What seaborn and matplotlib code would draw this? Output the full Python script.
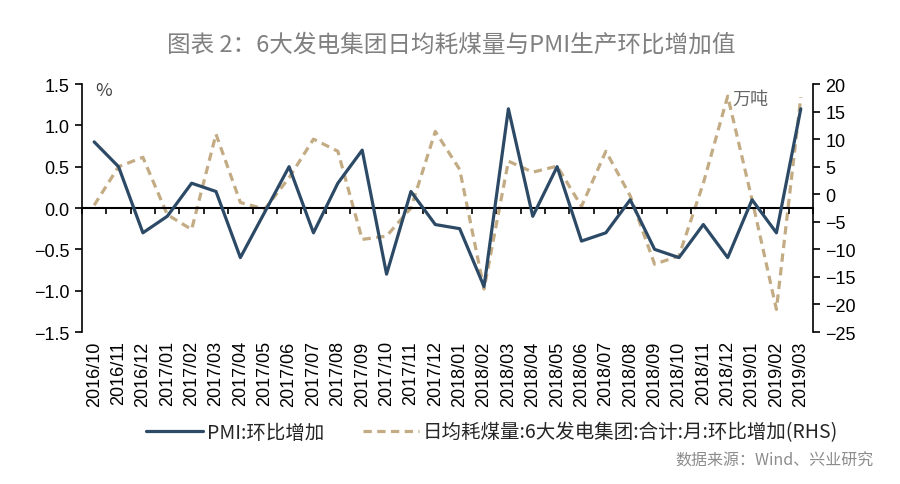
import matplotlib
matplotlib.use('Agg')
import matplotlib.pyplot as plt
import seaborn as sns
import numpy as np
import pandas as pd

# months on the x axis
months = ['2016/10', '2016/11', '2016/12',
          '2017/01', '2017/02', '2017/03', '2017/04', '2017/05', '2017/06',
          '2017/07', '2017/08', '2017/09', '2017/10', '2017/11', '2017/12',
          '2018/01', '2018/02', '2018/03', '2018/04', '2018/05', '2018/06',
          '2018/07', '2018/08', '2018/09', '2018/10', '2018/11', '2018/12',
          '2019/01', '2019/02', '2019/03']

# PMI month-on-month change (%, left axis)
pmi = [0.8, 0.5, -0.3, -0.1, 0.3, 0.2, -0.6, -0.05, 0.5, -0.3,
       0.3, 0.7, -0.8, 0.2, -0.2, -0.25, -0.95, 1.2, -0.1, 0.5,
       -0.4, -0.3, 0.1, -0.5, -0.6, -0.2, -0.6, 0.1, -0.3, 1.2]

# daily coal use of 6 big power groups, m-o-m change (10k t, right axis)
coal = [-2.0, 5.0, 6.7, -3.7, -6.4, 10.9, -1.5, -2.7, 3.0, 10.0,
        7.8, -8.2, -7.6, -2.5, 11.4, 4.5, -17.2, 6.0, 4.0, 5.1,
        -2.2, 7.8, -0.3, -12.7, -11.2, 2.0, 17.8, -1.0, -20.9, 17.6]

pmi_label = 'PMI:环比增加'
coal_label = '日均耗煤量:6大发电集团:合计:月:环比增加(RHS)'

df = pd.DataFrame({'pos': np.arange(len(months)), 'month': months,
                   'pmi': pmi, 'coal': coal})

sns.set_theme(style='white')
plt.rcParams['font.family'] = ['Noto Sans CJK SC', 'DejaVu Sans']

blue = '#2c4a66'
tan = '#c3ab84'

fig = plt.figure(figsize=(9, 4.85), dpi=100)
ax = fig.add_axes([0.0911, 0.3134, 0.8122, 0.5113])
ax2 = ax.twinx()

sns.lineplot(data=df, x='pos', y='coal', ax=ax2, color=tan, lw=2.3,
             linestyle=(0, (2.6, 1.7)), sort=False, label=coal_label,
             legend=False)
sns.lineplot(data=df, x='pos', y='pmi', ax=ax, color=blue, lw=2.3,
             sort=False, label=pmi_label, legend=False)
ax.set_zorder(ax2.get_zorder() + 1)
ax.patch.set_visible(False)

n = len(months)
ax.set_xlim(-0.5, n - 0.5)
ax.set_ylim(-1.5, 1.5)
ax2.set_ylim(-25, 20)
ax.set_yticks(np.arange(-1.5, 1.51, 0.5))
ax2.set_yticks(np.arange(-25, 21, 5))
ax.set_xticks(df['pos'])
ax.set_xticklabels(months, rotation=90, fontfamily='Liberation Sans',
                   fontsize=13)
ax.set_xlabel('')
ax.set_ylabel('')
ax2.set_ylabel('')

for a in (ax, ax2):
    for s in ('top', 'bottom'):
        a.spines[s].set_visible(False)
ax.spines['right'].set_visible(False)
ax2.spines['left'].set_visible(False)
ax.spines['left'].set_color('black')
ax2.spines['right'].set_color('black')
ax.spines['left'].set_linewidth(1.2)
ax2.spines['right'].set_linewidth(1.2)

ax.tick_params(axis='x', length=0, pad=6, colors='black')
ax.tick_params(axis='y', direction='out', length=5, width=1.2, left=True,
               labelsize=13, colors='black', pad=4)
ax2.tick_params(axis='y', direction='out', length=5, width=1.2, right=True,
                labelsize=13, colors='black', pad=4)
ax.yaxis.set_major_formatter(matplotlib.ticker.FuncFormatter(
    lambda v, p: f'{v:.1f}'.replace('-', '\u2212')))
ax2.yaxis.set_major_formatter(matplotlib.ticker.FuncFormatter(
    lambda v, p: f'{v:.0f}'.replace('-', '\u2212')))
for lab in ax.get_yticklabels() + ax2.get_yticklabels():
    lab.set_fontfamily('Liberation Sans')

# zero line with boundary ticks
zero = ax.secondary_xaxis(0, transform=ax.transData)
zero.set_xticks(np.arange(-0.5, n, 1.0))
zero.set_xticklabels([])
zero.tick_params(direction='out', length=4, width=1.2, colors='black')
zero.spines['bottom'].set_linewidth(1.5)
zero.spines['bottom'].set_color('black')

ax.text(0.018, 0.975, '%', transform=ax.transAxes, fontsize=13,
        color='#444444', va='center', ha='left')
ax.text(0.915, 0.94, '万吨', transform=ax.transAxes, fontsize=13,
        color='#666666', va='center', ha='center')

fig.text(0.501, 0.907, '图表 2：6大发电集团日均耗煤量与PMI生产环比增加值',
         ha='center', va='center', fontsize=17, color='#808080')

h1, l1 = ax.get_legend_handles_labels()
h2, l2 = ax2.get_legend_handles_labels()
fig.legend(h1 + h2, l1 + l2, loc='center', bbox_to_anchor=(0.547, 0.107),
           ncol=2, frameon=False, fontsize=14, handlelength=2.9,
           handletextpad=0.2, columnspacing=2.0)

fig.text(0.971, 0.0495, '数据来源：Wind、兴业研究', ha='right', va='center',
         fontsize=11.5, color='#8c8c8c')

fig.savefig('out.png', dpi=100)
